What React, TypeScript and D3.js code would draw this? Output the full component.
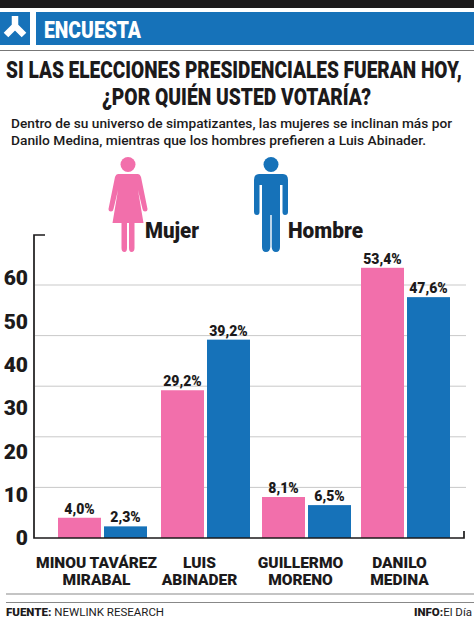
import React from "react";
import * as d3 from "d3";

const W = 474, H = 618;
const categories = [["MINOU TAVÁREZ", "MIRABAL"], ["LUIS", "ABINADER"], ["GUILLERMO", "MORENO"], ["DANILO", "MEDINA"]];
const mujer = [4.0, 29.2, 8.1, 53.4];
const hombre = [2.3, 39.2, 6.5, 47.6];
const mujerLabels = ["4,0%", "29,2%", "8,1%", "53,4%"];
const hombreLabels = ["2,3%", "39,2%", "6,5%", "47,6%"];
const tickLabels = [0, 10, 20, 30, 40, 50, 60];
const gridValues = [10, 20, 30, 40, 50];

const PINK = "#f26fab", BLUE = "#1672b9", INK = "#1c1a1b";
const HEAVY = "Roboto, sans-serif";
const CENTERS = [102.5, 205.5, 306.5, 405.5];

function Woman({ x, y }: { x: number; y: number }) {
  return (
    <g transform={`translate(${x},${y})`} fill={PINK}>
      <circle cx={0} cy={7.5} r={7.5} />
      <path d="M-10,17 Q-12,17 -13,20 L-19.5,52 Q-19.5,54.5 -17,54.5 Q-15,54.5 -14.5,52 L-10,33 L-15.5,66 L-6.5,66 L-6.5,91 Q-6.5,95 -3.5,95 Q-1,95 -1,91 L-1,66 L1,66 L1,91 Q1,95 3.5,95 Q6.5,95 6.5,91 L6.5,66 L15.5,66 L10,33 L14.5,52 Q15,54.5 17,54.5 Q19.5,54.5 19.5,52 L13,20 Q12,17 10,17 Z" />
    </g>
  );
}
function Man({ x, y }: { x: number; y: number }) {
  return (
    <g transform={`translate(${x},${y})`} fill={BLUE}>
      <circle cx={0} cy={7.5} r={7.5} />
      <path d="M-12,17 Q-17,17 -17,23 L-17,55 Q-17,58 -14,58 Q-11.5,58 -11.5,55 L-11.5,28 L-9,28 L-9,90 Q-9,95 -5,95 Q-1,95 -0.7,90 L-0.7,58 L0.7,58 L0.7,90 Q1,95 5,95 Q9,95 9,90 L9,28 L11.5,28 L11.5,55 Q11.5,58 14,58 Q17,58 17,55 L17,23 Q17,17 12,17 Z" />
    </g>
  );
}

export default function App() {
  const y0 = 538;
  const y = d3.scaleLinear().domain([0, 50]).range([y0, 285]);
  const yLabel = d3.scaleLinear().domain([0, 60]).range([538, 278]);
  const x = d3.scaleOrdinal<number, number>(d3.range(categories.length), CENTERS);
  const barW = 43, gap = 3;
  return (
    <svg width={W} height={H} viewBox={`0 0 ${W} ${H}`} style={{ position: "absolute", left: 0, top: 0, background: "#fff" }}>
      <rect x={0} y={0} width={W} height={8} fill={INK} />
      <rect x={0} y={12} width={30} height={33} fill={BLUE} />
      <rect x={36} y={12} width={438} height={33} fill={BLUE} />
      <path d="M15,16 L15,26 M15,26 L6,35 M15,26 L24,35" stroke="#fff" strokeWidth={6.5} fill="none" />
      <text x={44} y={38} fontFamily={HEAVY} fontWeight={900} fontSize={24} fill="#fff" textLength={97} lengthAdjust="spacingAndGlyphs">ENCUESTA</text>
      <line x1={0} x2={474} y1={50.5} y2={50.5} stroke="#777" strokeWidth={1} />

      <g fontFamily={HEAVY} fontWeight={900} fontSize={23} fill={INK}>
        <text x={6} y={78} textLength={456} lengthAdjust="spacingAndGlyphs">SI LAS ELECCIONES PRESIDENCIALES FUERAN HOY,</text>
        <text x={102} y={105} textLength={269} lengthAdjust="spacingAndGlyphs">¿POR QUIÉN USTED VOTARÍA?</text>
      </g>
      <g fontFamily={HEAVY} fontWeight={500} fontSize={13} fill={INK}>
        <text x={11} y={128} textLength={441} lengthAdjust="spacingAndGlyphs">Dentro de su universo de simpatizantes, las mujeres se inclinan más por</text>
        <text x={11} y={145} textLength={415} lengthAdjust="spacingAndGlyphs">Danilo Medina, mientras que los hombres prefieren a Luis Abinader.</text>
      </g>

      <Woman x={128} y={157} />
      <Man x={271} y={157} />
      <g fontFamily={HEAVY} fontWeight={900} fontSize={22} fill={INK}>
        <text x={145} y={238} textLength={54} lengthAdjust="spacingAndGlyphs">Mujer</text>
        <text x={288} y={238} textLength={75} lengthAdjust="spacingAndGlyphs">Hombre</text>
      </g>

      {gridValues.concat([]).map(v => (
        <line key={v} x1={35} x2={466} y1={y(v)} y2={y(v)} stroke="#c9c9c9" strokeWidth={1} />
      ))}
      {mujer.map((v, i) => (
        <rect key={i} x={x(i) - gap / 2 - barW} y={y(v)} width={barW} height={y0 - y(v)} fill={PINK} />
      ))}
      {hombre.map((v, i) => (
        <rect key={i} x={x(i) + gap / 2} y={y(v)} width={barW} height={y0 - y(v)} fill={BLUE} />
      ))}
      <path d={`M45,235 L34,235 L34,${y0} L464,${y0} L464,531`} fill="none" stroke={INK} strokeWidth={1.7} />

      <g fontFamily={HEAVY} fontWeight={900} fontSize={21} fill={INK} textAnchor="end">
        {tickLabels.map(t => (
          <text key={t} x={28} y={yLabel(t)} dy="0.35em">{t}</text>
        ))}
      </g>
      <g fontFamily={HEAVY} fontWeight={900} fontSize={14} fill={INK} textAnchor="middle">
        {mujer.map((v, i) => (
          <text key={i} x={x(i) - gap / 2 - barW / 2} y={y(v) - 4}>{mujerLabels[i]}</text>
        ))}
        {hombre.map((v, i) => (
          <text key={i} x={x(i) + gap / 2 + barW / 2} y={y(v) - 4}>{hombreLabels[i]}</text>
        ))}
      </g>
      <g fontFamily={HEAVY} fontWeight={900} fontSize={15.5} fill={INK} textAnchor="middle">
        {categories.map((c, i) => (
          <text key={i} x={x(i) - 6}>
            <tspan x={x(i) - 6} y={568}>{c[0]}</tspan>
            <tspan x={x(i) - 6} y={585}>{c[1]}</tspan>
          </text>
        ))}
      </g>

      <rect x={6} y={593} width={468} height={2} fill="#c4c4c4" />
      <rect x={6} y={602} width={468} height={1} fill="#888" />
      <text x={6} y={616} fontFamily={HEAVY} fontSize={11.5} fill={INK}><tspan fontWeight={900}>FUENTE:</tspan> NEWLINK RESEARCH</text>
      <text x={472} y={616} textAnchor="end" fontFamily={HEAVY} fontSize={11.5} fill={INK}><tspan fontWeight={900}>INFO:</tspan>El Día</text>
    </svg>
  );
}
